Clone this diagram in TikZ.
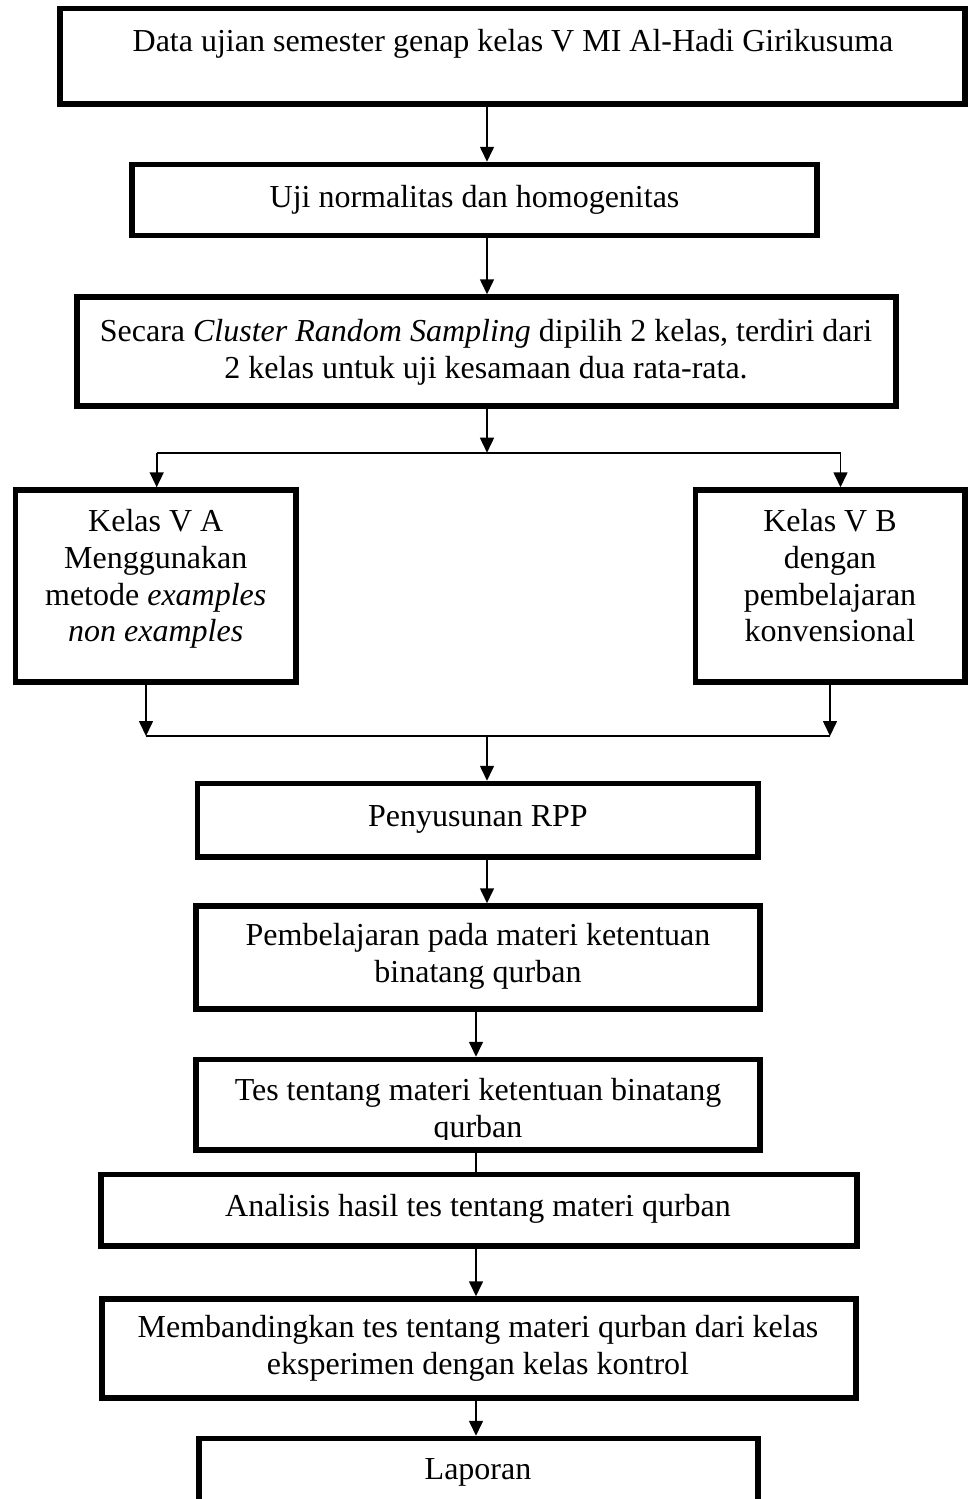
\documentclass[tikz,border=0pt]{standalone}
\usepackage{fontspec}
\setmainfont{Liberation Serif}
\usetikzlibrary{arrows.meta}
\begin{document}
\begin{tikzpicture}[x=1pt,y=-1pt,
  box/.style={draw=black, line width=5.5pt, inner sep=0pt, rectangle},
  txt/.style={inner sep=0pt, align=center, font=\fontsize{32}{36.7}\selectfont, anchor=base},
  conn/.style={line width=1.6pt, draw=black},
  arr/.style={conn, -{Triangle[width=14pt,length=15pt]}}]
\useasboundingbox (0,0) rectangle (968,1499);

% boxes
\node[box, minimum width=905pt, minimum height=95.5pt] (b1) at (512.5,56.25) {};
\node[box, minimum width=685pt, minimum height=71pt] (b2) at (474.5,200) {};
\node[box, minimum width=819pt, minimum height=109pt] (b3) at (486.5,351.5) {};
\node[box, minimum width=280.5pt, minimum height=192pt] (b4) at (155.75,586) {};
\node[box, minimum width=269.5pt, minimum height=192pt] (b5) at (830.25,586) {};
\node[box, minimum width=560.5pt, minimum height=73.5pt] (b6) at (477.75,820.25) {};
\node[box, minimum width=564pt, minimum height=103pt] (b7) at (478,957.5) {};
\node[box, minimum width=564pt, minimum height=90.5pt] (b8) at (478,1104.75) {};
\node[box, minimum width=756pt, minimum height=71.5pt] (b9) at (479,1210.25) {};
\node[box, minimum width=754pt, minimum height=99pt] (b10) at (479,1348.5) {};
\node[box, minimum width=559pt, minimum height=100pt] (b11) at (478.5,1488.5) {};

% texts (anchor=base sits on the last line's baseline)
\node[txt] (t1) at (513,51.7) {Data ujian semester genap kelas V MI Al-Hadi Girikusuma};
\node[txt] (t2) at (474.5,207) {Uji normalitas dan homogenitas};
\node[txt] (t3) at (486,378) {Secara \textit{Cluster Random Sampling} dipilih 2 kelas, terdiri dari\\2 kelas untuk uji kesamaan dua rata-rata.};
\node[txt] (t4) at (155.75,641.7) {Kelas V A\\Menggunakan\\metode \textit{examples}\\\textit{non examples}};
\node[txt] (t5) at (830,641.7) {Kelas V B\\dengan\\pembelajaran\\konvensional};
\node[txt] (t6) at (478,826) {Penyusunan RPP};
\node[txt] (t7) at (478,982) {Pembelajaran pada materi ketentuan\\binatang qurban};
\begin{scope}
\clip (196,1059.5) rectangle (760,1139);
\node[txt] (t8) at (478,1137) {Tes tentang materi ketentuan binatang\\qurban};
\end{scope}
\node[txt] (t9) at (478,1216) {Analisis hasil tes tentang materi qurban};
\node[txt] (t10) at (478,1374) {Membandingkan tes tentang materi qurban dari kelas\\eksperimen dengan kelas kontrol};
\node[txt] (t11) at (478,1479) {Laporan};

% connector coordinates
\coordinate (xa) at (487,0);
\coordinate (xb) at (476,0);
\coordinate (s) at (487,452.7);
\coordinate (sL) at (156.7,452.7);
\coordinate (sR) at (840.5,452.7);
\coordinate (mL) at (146,736);
\coordinate (mR) at (830,736);
\coordinate (m) at (487,736);

\draw[arr] (b1.south -| xa) -- (b2.north -| xa);
\draw[arr] (b2.south -| xa) -- (b3.north -| xa);
\draw[arr] (b3.south -| xa) -- (s);
\draw[conn] (sL) -- (sR);
\draw[arr] (sL) -- (b4.north -| sL);
\draw[arr] (sR) -- (b5.north -| sR);
\draw[arr] (b4.south -| mL) -- (mL);
\draw[arr] (b5.south -| mR) -- (mR);
\draw[conn] (mL) -- (mR);
\draw[arr] (m) -- (b6.north -| m);
\draw[arr] (b6.south -| xa) -- (b7.north -| xa);
\draw[arr] (b7.south -| xb) -- (b8.north -| xb);
\draw[conn] (b8.south -| xb) -- (b9.north -| xb);
\draw[arr] (b9.south -| xb) -- (b10.north -| xb);
\draw[arr] (b10.south -| xb) -- (b11.north -| xb);
\end{tikzpicture}
\end{document}
